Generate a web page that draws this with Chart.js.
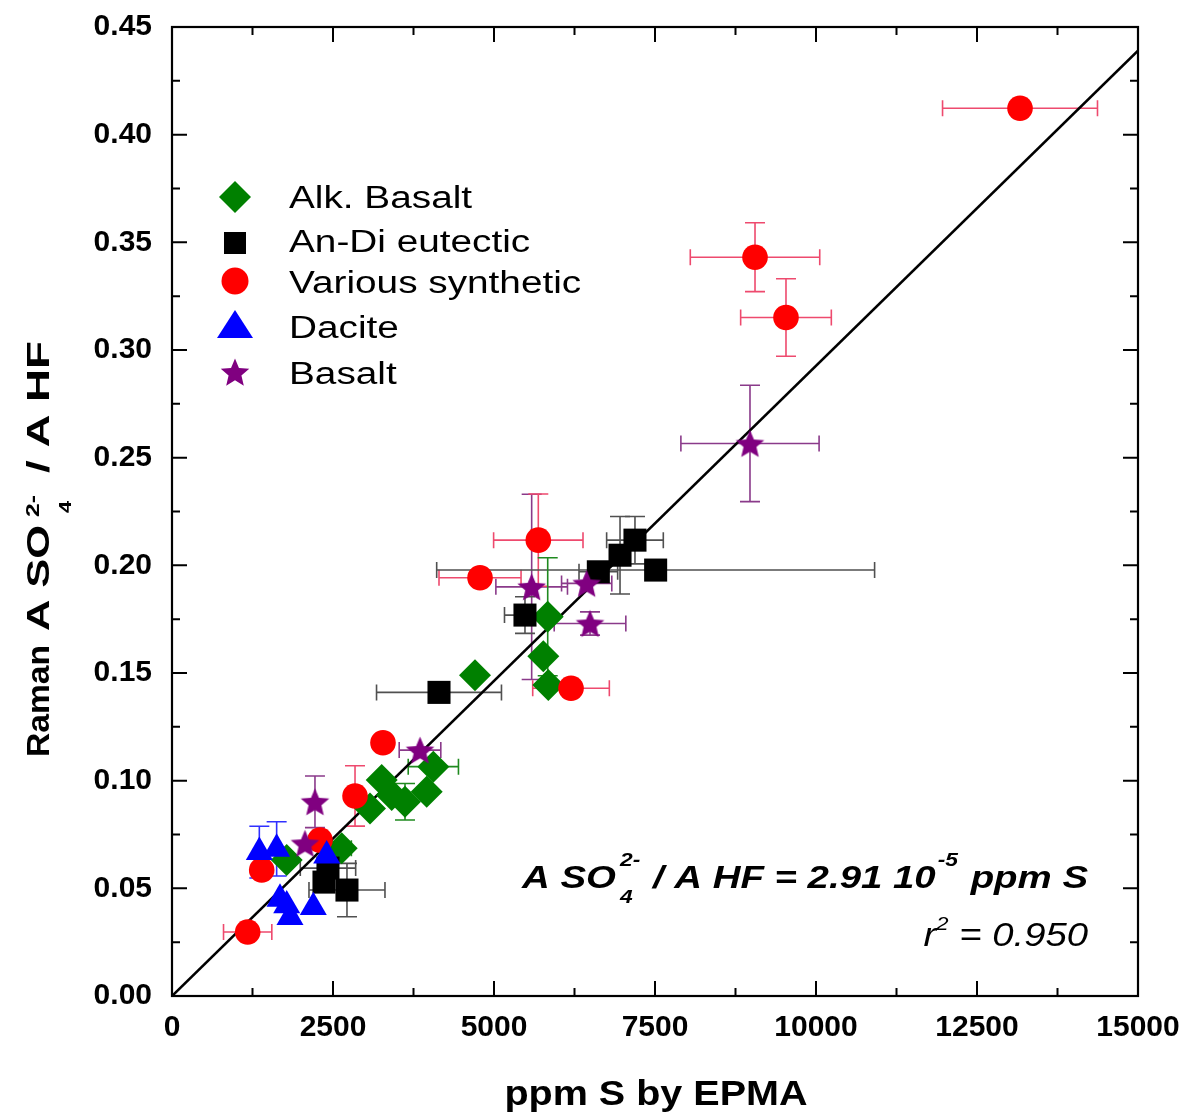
<!DOCTYPE html>
<html>
<head>
<meta charset="utf-8">
<script src="https://cdn.jsdelivr.net/npm/chart.js@4.4.1/dist/chart.umd.min.js"></script>
<style>
html,body{margin:0;padding:0;background:#fff;}
#wrap{width:1191px;height:1118px;}
</style>
</head>
<body>
<div id="wrap"><canvas id="c" width="1191" height="1118"></canvas></div>
<script>
// axis ranges (ppm S, ratio)
const xMax=15000, xStep=2500;
const yMax=0.45, yStep=0.05;

// Alk. Basalt
const alkX   =[4705,5834,5766,5843,3256,3075,3411,3618,3955,4058,2635,1781];
const alkY   =[0.149,0.1761,0.1578,0.1444,0.1003,0.0871,0.0933,0.0902,0.0948,0.1065,0.0686,0.0631];
const alkXErr=[0,0,0,0,0,0,0,0,0,390,150,0];
const alkYErr=[0,0.0274,0,0,0,0,0,0.0085,0,0,0,0];

// An-Di eutectic
const andiX   =[7189,6957,6620,7510,5481,4146,2422,2360,2717];
const andiY   =[0.2117,0.2047,0.197,0.1978,0.1769,0.141,0.0594,0.0529,0.0492];
const andiXErr=[440,0,300,3400,318,970,430,0,590];
const andiYErr=[0.011,0.018,0,0,0.0085,0,0,0,0.0124];

// Various synthetic
const synX   =[13168,9053,9534,5688,4783,6196,3276,2842,2298,1393,1175];
const synY   =[0.4123,0.3431,0.3151,0.2117,0.1942,0.1429,0.1176,0.0929,0.0724,0.0585,0.0297];
const synXErr=[1203,1005,704,694,637,595,0,0,0,0,375];
const synYErr=[0,0.016,0.018,0.0214,0,0,0,0.014,0,0,0];

// Dacite
const dacX   =[1356,1625,2402,1677,1781,1832,2194];
const dacY   =[0.0668,0.0683,0.0652,0.0451,0.042,0.0366,0.0412];
const dacXErr=[0,0,0,0,0,0,0];
const dacYErr=[0.012,0.0126,0,0,0,0,0];

// Basalt
const basX   =[8975,5585,6439,6491,3851,2220,2065];
const basY   =[0.2566,0.19,0.1916,0.173,0.1142,0.0902,0.0709];
const basXErr=[1073,556,390,556,323,0,0];
const basYErr=[0.027,0.043,0,0.0054,0,0.012,0];

// regression line end points
const fitX=[0,15000];
const fitY=[0,0.439];

const FONT='"Liberation Sans", Arial, Helvetica, sans-serif';
const GREEN='#008000', RED='#ff0000', BLUE='#0000ff', PURPLE='#800080';
const AREA={left:172,top:27,right:1138,bottom:996};

function starCanvas(color,R){
  const r=R*0.45;
  const w=Math.ceil(2*R*Math.sin(2*Math.PI/5))+2;
  const hh=R*(1+Math.cos(Math.PI/5));
  const h=Math.ceil(hh)+2;
  const c=document.createElement('canvas');c.width=w;c.height=h;
  const g=c.getContext('2d');
  drawStar(g,w/2,(h-hh)/2+R,R,r);
  g.fillStyle=color;g.fill();
  return c;
}
function drawStar(g,cx,cy,R,r){
  g.beginPath();
  for(let i=0;i<10;i++){
    const a=-Math.PI/2+i*Math.PI/5, rr=i%2?r:R;
    g.lineTo(cx+rr*Math.cos(a),cy+rr*Math.sin(a));
  }
  g.closePath();
}

function series(label,xs,ys,xe,ye,color,errColor,style,radius,order){
  return {label,data:xs.map((x,i)=>({x,y:ys[i]})),xErr:xe,yErr:ye,errColor,
    backgroundColor:color,borderColor:color,pointStyle:style,pointRadius:radius,
    pointHoverRadius:radius,pointBorderWidth:0,order};
}

const datasets=[
  series('Alk. Basalt',alkX,alkY,alkXErr,alkYErr,GREEN,'#1f8a1f','rectRot',16,5),
  series('An-Di eutectic',andiX,andiY,andiXErr,andiYErr,'#000','#505050','rect',16.3,4),
  series('Various synthetic',synX,synY,synXErr,synYErr,RED,'#ee4a6e','circle',12.8,3),
  series('Dacite',dacX,dacY,dacXErr,dacYErr,BLUE,'#3030ff','triangle',15.6,2),
  series('Basalt',basX,basY,basXErr,basYErr,PURPLE,'#8a3a8a',starCanvas(PURPLE,15),15,1),
  {label:'fit',data:fitX.map((x,i)=>({x,y:fitY[i]})),showLine:true,borderColor:'#000',
    borderWidth:2.6,pointRadius:0,pointHoverRadius:0,order:10}
];

// error bars under the markers
const errorBars={id:'errorBars',beforeDatasetsDraw(chart){
  const {ctx,scales:{x,y}}=chart;
  [...chart.data.datasets].reverse().forEach(ds=>{
    if(!ds.xErr)return;
    ctx.save();ctx.strokeStyle=ds.errColor;ctx.lineWidth=1.6;
    ds.data.forEach((p,i)=>{
      const px=x.getPixelForValue(p.x),py=y.getPixelForValue(p.y);
      const ex=ds.xErr[i],ey=ds.yErr[i];
      ctx.beginPath();
      if(ex){
        const l=x.getPixelForValue(p.x-ex),r=x.getPixelForValue(p.x+ex);
        ctx.moveTo(l,py);ctx.lineTo(r,py);
        ctx.moveTo(l,py-8);ctx.lineTo(l,py+8);
        ctx.moveTo(r,py-8);ctx.lineTo(r,py+8);
      }
      if(ey){
        const t=y.getPixelForValue(p.y+ey),b=y.getPixelForValue(p.y-ey);
        ctx.moveTo(px,t);ctx.lineTo(px,b);
        ctx.moveTo(px-10,t);ctx.lineTo(px+10,t);
        ctx.moveTo(px-10,b);ctx.lineTo(px+10,b);
      }
      ctx.stroke();
    });
    ctx.restore();
  });
}};

// box frame with inward ticks on all four sides
const frame={id:'frame',afterDatasetsDraw(chart){
  const {ctx,chartArea:a,scales:{x,y}}=chart;
  ctx.save();ctx.strokeStyle='#000';ctx.lineWidth=2;ctx.beginPath();
  for(let k=0;k<=xMax/xStep*2;k++){
    const px=x.getPixelForValue(k*xStep/2),L=k%2?8:15;
    ctx.moveTo(px,a.bottom);ctx.lineTo(px,a.bottom-L);
    ctx.moveTo(px,a.top);ctx.lineTo(px,a.top+L);
  }
  for(let k=0;k<=Math.round(yMax/yStep*2);k++){
    const py=y.getPixelForValue(k*yStep/2),L=k%2?8:15;
    ctx.moveTo(a.left,py);ctx.lineTo(a.left+L,py);
    ctx.moveTo(a.right,py);ctx.lineTo(a.right-L,py);
  }
  ctx.stroke();
  ctx.lineWidth=2.2;
  ctx.strokeRect(a.left,a.top,a.right-a.left,a.bottom-a.top);
  ctx.restore();
}};

function sText(ctx,s,x,y,sx,font){
  ctx.font=font;ctx.save();ctx.translate(x,y);ctx.scale(sx,1);ctx.fillText(s,0,0);ctx.restore();
  return ctx.measureText(s).width*sx;
}
function fitText(ctx,s,x,y,w,font){
  ctx.font=font;const m=ctx.measureText(s).width;
  ctx.save();ctx.translate(x,y);ctx.scale(w/m,1);ctx.fillText(s,0,0);ctx.restore();
}

function legendMarker(ctx,ds,cx,cy){
  ctx.fillStyle=ds.backgroundColor;ctx.beginPath();
  if(ds.pointStyle==='rectRot'){ctx.moveTo(cx-16,cy);ctx.lineTo(cx,cy-16);ctx.lineTo(cx+16,cy);ctx.lineTo(cx,cy+16);}
  else if(ds.pointStyle==='rect'){ctx.rect(cx-11,cy-11,22,22);}
  else if(ds.pointStyle==='circle'){ctx.arc(cx,cy,13.5,0,Math.PI*2);}
  else if(ds.pointStyle==='triangle'){ctx.moveTo(cx,cy-16);ctx.lineTo(cx+18,cy+12);ctx.lineTo(cx-18,cy+12);}
  else {drawStar(ctx,cx,cy+1.5,15,6.75);}
  ctx.closePath();ctx.fill();
}

const texts={id:'texts',afterDraw(chart){
  const ctx=chart.ctx;
  ctx.save();ctx.fillStyle='#000';ctx.textBaseline='alphabetic';ctx.textAlign='left';

  // legend
  const rows=[[197,208],[243,252],[281,293],[326,338],[372,384]];
  datasets.slice(0,5).forEach((ds,i)=>{
    legendMarker(ctx,ds,235,rows[i][0]);
    ctx.fillStyle='#000';
    sText(ctx,ds.label,289,rows[i][1],1.25,'31px '+FONT);
  });

  // regression equation
  const bi='italic bold 32px '+FONT, bis='italic bold 19px '+FONT, sx=1.2;
  ctx.font=bi;
  const w1=ctx.measureText('A SO').width*sx;
  const w2=ctx.measureText(' / A HF = 2.91 10').width*sx;
  const w3=ctx.measureText(' ppm S').width*sx;
  ctx.font=bis;
  const ws=ctx.measureText('2-').width*sx, we=ctx.measureText('-5').width*sx;
  let x0=1088-(w1+ws+6+w2+we+4+w3);
  const base=888;
  sText(ctx,'A SO',x0,base,sx,bi);x0+=w1+4;
  sText(ctx,'4',x0,base+15,sx,bis);
  sText(ctx,'2-',x0,base-22,sx,bis);x0+=ws+2;
  sText(ctx,' / A HF = 2.91 10',x0,base,sx,bi);x0+=w2+2;
  sText(ctx,'-5',x0,base-22,sx,bis);x0+=we+2;
  sText(ctx,' ppm S',x0,base,sx,bi);

  // r squared
  const it='italic 33px '+FONT, its='italic 19px '+FONT;
  ctx.font=it;const wr=ctx.measureText('r').width*1.16, wq=ctx.measureText(' = 0.950').width*1.16;
  ctx.font=its;const w2s=ctx.measureText('2').width*1.16;
  let xr=1088-(wr+w2s+wq);
  sText(ctx,'r',xr,946,1.16,it);xr+=wr;
  sText(ctx,'2',xr,930,1.16,its);xr+=w2s;
  sText(ctx,' = 0.950',xr,946,1.16,it);

  // x title
  ctx.textAlign='center';
  sText(ctx,'ppm S by EPMA',656,1105,1.13,'bold 35px '+FONT);
  ctx.textAlign='left';

  // y title, rotated
  ctx.save();ctx.translate(49,757);ctx.rotate(-Math.PI/2);
  const yb='bold 31px '+FONT;
  fitText(ctx,'Raman',0,0,112,yb);
  fitText(ctx,'A SO',126,0,106,yb);
  fitText(ctx,'4',244,22,12,'bold 17px '+FONT);
  fitText(ctx,'2-',240,-10,22,'bold 18px '+FONT);
  fitText(ctx,'/ A HF',284,0,132,yb);
  ctx.restore();

  ctx.restore();
}};

function noEdgePad(s){s.paddingTop=0;s.paddingBottom=0;s.paddingLeft=0;s.paddingRight=0;}

new Chart(document.getElementById('c'),{
  type:'scatter',
  data:{datasets},
  options:{
    responsive:false,animation:false,events:[],devicePixelRatio:1,
    layout:{padding:{top:AREA.top,right:1191-AREA.right,left:0,bottom:0}},
    plugins:{legend:{display:false},tooltip:{enabled:false}},
    scales:{
      x:{type:'linear',min:0,max:xMax,
        grid:{display:false,drawTicks:false},border:{display:false},
        ticks:{stepSize:xStep,autoSkip:false,maxRotation:0,padding:14,color:'#000',
          font:{family:FONT,weight:'bold',size:30},callback:v=>String(v)},
        afterFit(s){s.height=1118-AREA.bottom;noEdgePad(s);}},
      y:{type:'linear',min:0,max:yMax,
        grid:{display:false,drawTicks:false},border:{display:false},
        ticks:{stepSize:yStep,autoSkip:false,padding:20,color:'#000',
          font:{family:FONT,weight:'bold',size:30},
          callback:v=>v.toFixed(2)},
        afterFit(s){s.width=AREA.left;noEdgePad(s);}}
    }
  },
  plugins:[errorBars,frame,texts]
});
</script>
</body>
</html>
